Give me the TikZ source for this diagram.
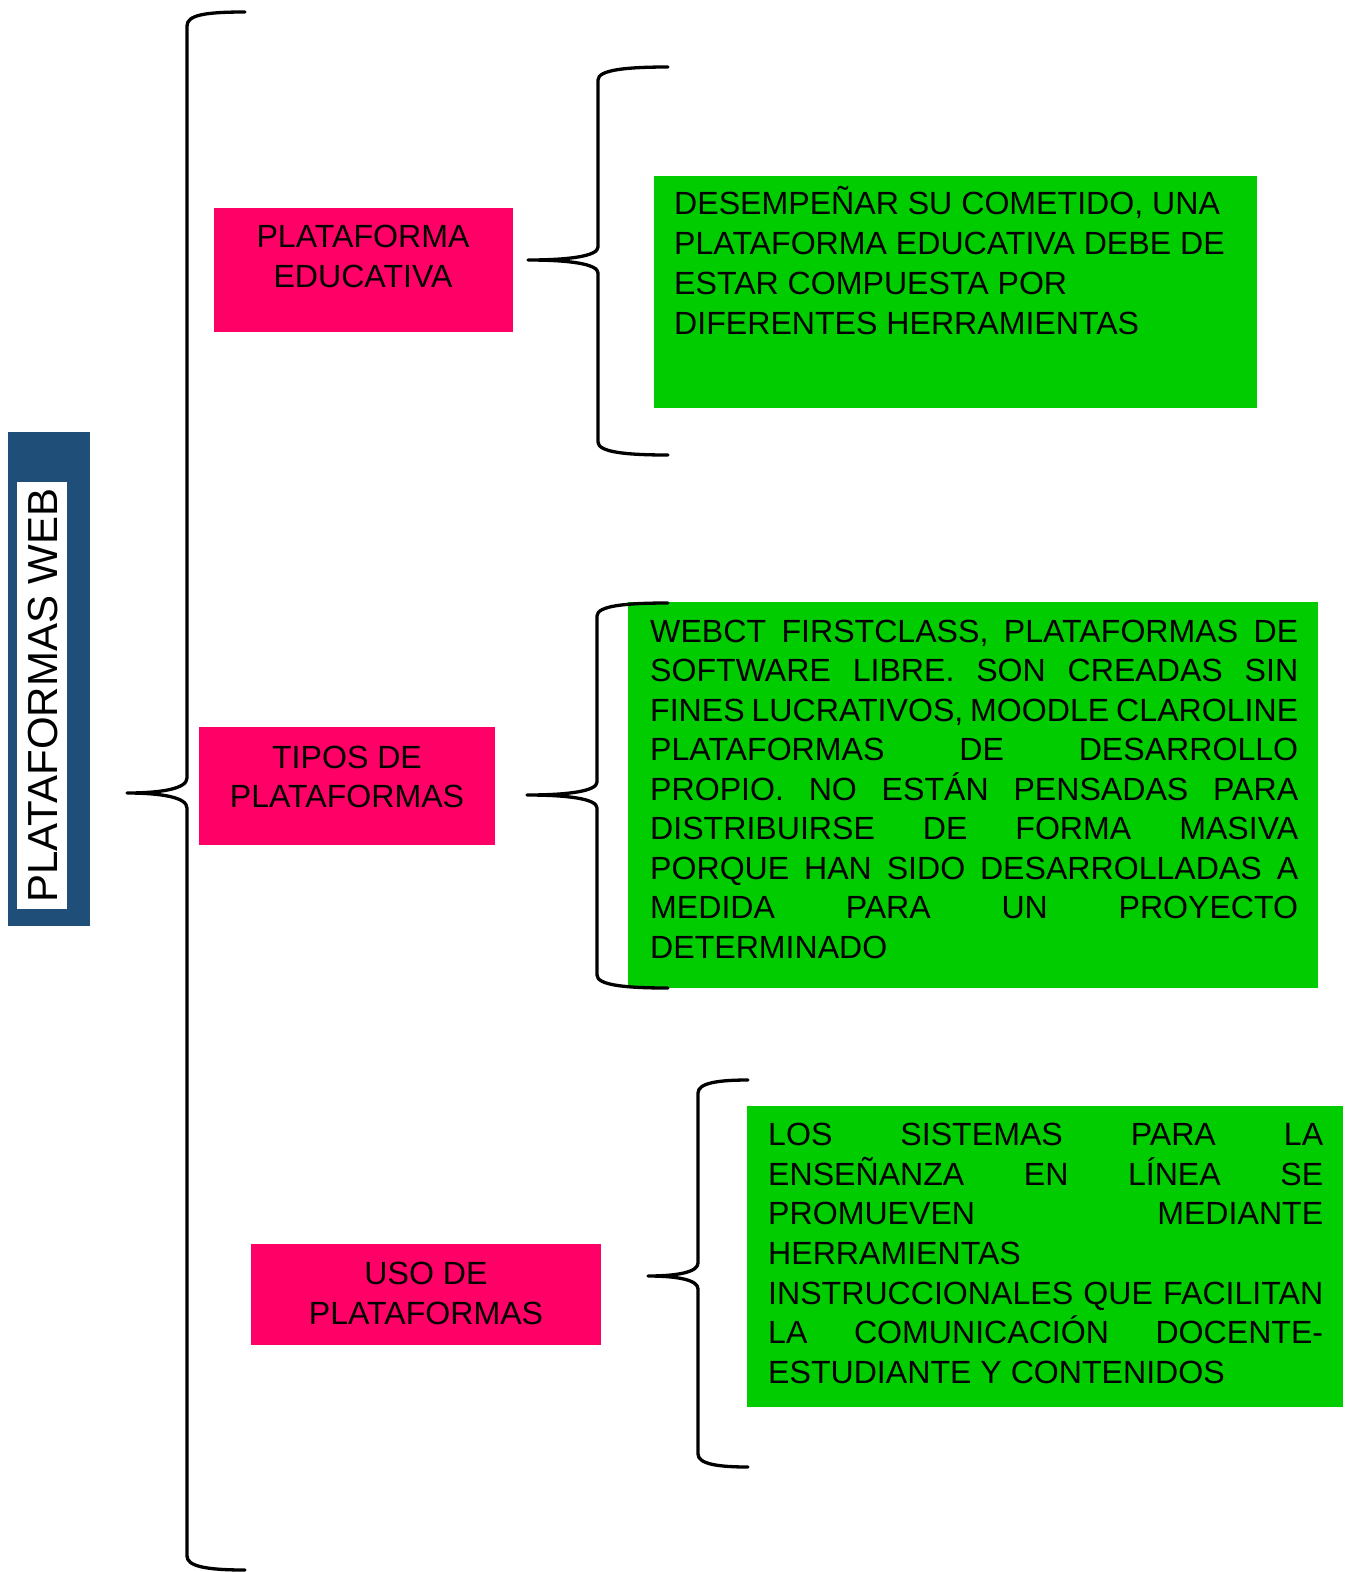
\documentclass[tikz,border=0pt]{standalone}
\usepackage{fontspec}
\setmainfont{Liberation Sans}
\definecolor{pinkc}{HTML}{FF0066}
\definecolor{greenc}{HTML}{00CC00}
\definecolor{bluec}{HTML}{1F4E79}
\newcommand{\fsz}{\fontsize{32.1}{40}\selectfont}
\newcommand{\jl}[2]{\makebox[#1pt][s]{#2}}
\begin{document}
\begin{tikzpicture}[x=1pt,y=-1pt,
  pinkbox/.style={fill=pinkc, draw=none, inner sep=0, minimum width=#1},
  greenbox/.style={fill=greenc, draw=none, inner sep=0},
  tl/.style={anchor=base west, inner sep=0, font=\fsz},
  tc/.style={anchor=base, inner sep=0, font=\fsz},
  bracel/.style={draw=black, line width=3.3pt, line cap=round, line join=round}]
\useasboundingbox (0,0) rectangle (1353,1572);
% title
\node[fill=bluec, inner sep=0, minimum width=82pt, minimum height=494pt] (tbox) at (49,679) {};
\node[fill=white, rotate=90, inner sep=0, minimum width=427pt, minimum height=50pt,
      font=\fontsize{42}{50}\selectfont, text height=30pt, text depth=0pt] (title) at (42,695.5) {PLATAFORMAS WEB};
% pink boxes
\node[pinkbox=299pt, minimum height=124pt] (p1) at (363.5,270) {};
\node[pinkbox=296pt, minimum height=118pt] (p2) at (347,786) {};
\node[pinkbox=350pt, minimum height=101pt] (p3) at (426,1294.5) {};
\node[tc] (p1a) at (363,247.4) {PLATAFORMA};
\node[tc] (p1b) at (363,287.4) {EDUCATIVA};
\node[tc] (p2a) at (347,768.4) {TIPOS DE};
\node[tc] (p2b) at (347,807.4) {PLATAFORMAS};
\node[tc] (p3a) at (426,1284.4) {USO DE};
\node[tc] (p3b) at (426,1324.4) {PLATAFORMAS};
% green boxes
\node[greenbox, minimum width=603pt, minimum height=232pt] (g1) at (955.5,292) {};
\node[greenbox, minimum width=690pt, minimum height=386pt] (g2) at (973,795) {};
\node[greenbox, minimum width=596pt, minimum height=301pt] (g3) at (1045,1256.5) {};
% green text 1
\node[tl] (g1a) at (674,214.4) {DESEMPEÑAR SU COMETIDO, UNA};
\node[tl] (g1b) at (674,254.4) {PLATAFORMA EDUCATIVA DEBE DE};
\node[tl] (g1c) at (674,294.4) {ESTAR COMPUESTA POR};
\node[tl] (g1d) at (674,334.4) {DIFERENTES HERRAMIENTAS};
% green text 2
\node[tl] (g2a) at (650,642.4) {\jl{648}{WEBCT FIRSTCLASS, PLATAFORMAS DE}};
\node[tl] (g2b) at (650,681.9) {\jl{648}{SOFTWARE LIBRE. SON CREADAS SIN}};
\node[tl] (g2c) at (650,721.4) {\jl{648}{FINES LUCRATIVOS, MOODLE CLAROLINE}};
\node[tl] (g2d) at (650,760.9) {\jl{648}{PLATAFORMAS DE DESARROLLO}};
\node[tl] (g2e) at (650,800.4) {\jl{648}{PROPIO. NO ESTÁN PENSADAS PARA}};
\node[tl] (g2f) at (650,839.9) {\jl{648}{DISTRIBUIRSE DE FORMA MASIVA}};
\node[tl] (g2g) at (650,879.4) {\jl{648}{PORQUE HAN SIDO DESARROLLADAS A}};
\node[tl] (g2h) at (650,918.9) {\jl{648}{MEDIDA PARA UN PROYECTO}};
\node[tl] (g2i) at (650,958.4) {DETERMINADO};
% green text 3
\node[tl] (g3a) at (768,1145.4) {\jl{555}{LOS SISTEMAS PARA LA}};
\node[tl] (g3b) at (768,1185.1) {\jl{555}{ENSEÑANZA EN LÍNEA SE}};
\node[tl] (g3c) at (768,1224.8) {\jl{555}{PROMUEVEN MEDIANTE}};
\node[tl] (g3d) at (768,1264.5) {HERRAMIENTAS};
\node[tl] (g3e) at (768,1304.2) {\jl{555}{INSTRUCCIONALES QUE FACILITAN}};
\node[tl] (g3f) at (768,1343.9) {\jl{555}{LA COMUNICACIÓN DOCENTE-}};
\node[tl] (g3g) at (768,1383.6) {ESTUDIANTE Y CONTENIDOS};
% brace coordinates
\coordinate (b0t) at (245,12);
\coordinate (b0m) at (127,793);
\coordinate (b0b) at (245,1570);
\coordinate (b1t) at (668,67);
\coordinate (b1m) at (528,260);
\coordinate (b1b) at (668,455);
\coordinate (b2t) at (668,603);
\coordinate (b2m) at (527,795);
\coordinate (b2b) at (668,988);
\coordinate (b3t) at (748,1080);
\coordinate (b3m) at (648,1276);
\coordinate (b3b) at (748,1467);
% braces
\draw[bracel] (b0t) .. controls (205,12) and (187,15) .. (187,26) -- (187,778)
  .. controls (187,789) and (160,793) .. (b0m)
  .. controls (160,793) and (187,797) .. (187,808) -- (187,1556)
  .. controls (187,1566) and (205,1570) .. (b0b);
\draw[bracel] (b1t) .. controls (625,67) and (598,70) .. (598,80) -- (598,247)
  .. controls (598,256) and (570,260) .. (b1m)
  .. controls (570,260) and (598,264) .. (598,273) -- (598,442)
  .. controls (598,452) and (625,455) .. (b1b);
\draw[bracel] (b2t) .. controls (624,603) and (597,606) .. (597,616) -- (597,782)
  .. controls (597,791) and (569,795) .. (b2m)
  .. controls (569,795) and (597,799) .. (597,808) -- (597,975)
  .. controls (597,985) and (624,988) .. (b2b);
\draw[bracel] (b3t) .. controls (718,1080) and (698,1083) .. (698,1093) -- (698,1263)
  .. controls (698,1272) and (678,1276) .. (b3m)
  .. controls (678,1276) and (698,1280) .. (698,1289) -- (698,1454)
  .. controls (698,1464) and (718,1467) .. (b3b);
\end{tikzpicture}
\end{document}
